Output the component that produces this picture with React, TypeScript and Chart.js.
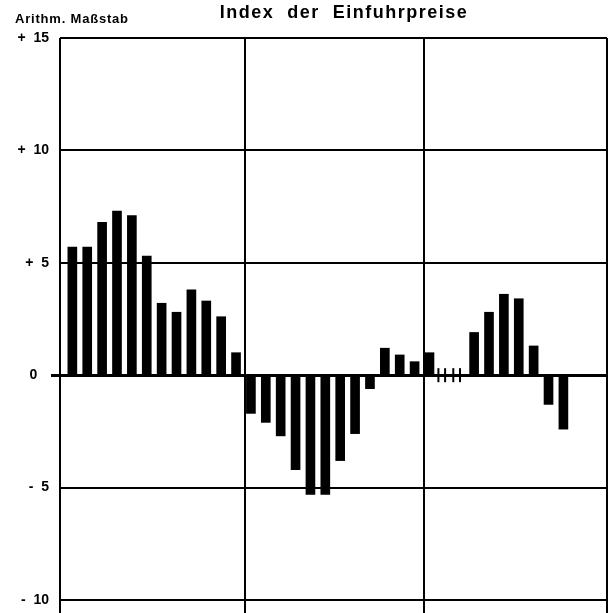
import React, { useEffect, useRef } from "react";
import { Chart, registerables } from "chart.js";

Chart.register(...registerables);

const chartTitle = "Index  der  Einfuhrpreise";
const scaleNote = "Arithm. Maßstab";

// Monthly change (%) over three years, 36 months; 0 = unchanged (marked with ticks)
const monthlyChange: (number | null)[] = [
  5.7, 5.7, 6.8, 7.3, 7.1, 5.3, 3.2, 2.8, 3.8, 3.3, 2.6, 1.0,
  -1.7, -2.1, -2.7, -4.2, -5.3, -5.3, -3.8, -2.6, -0.6, 1.2, 0.9, 0.6,
  1.0, 0, 0, 1.9, 2.8, 3.6, 3.4, 1.3, -1.3, -2.4, null, null,
];

const yTickValues = [-10, -5, 0, 5, 10, 15];
const yearBreaks = [11.6, 23.6];
const xRange = [-0.83, 35.93];
const yRange = [-10.58, 15];
const zeroMarkOffsets = [-0.4, 0.05];

const fontFamily = '"Liberation Sans", Arial, Helvetica, sans-serif';

function yLabel(v: number): string {
  if (v > 0) return "+  " + v;
  if (v < 0) return "-  " + Math.abs(v);
  return "0   ";
}

const headerPlugin = {
  id: "headerText",
  afterDraw(chart: any) {
    const ctx = chart.ctx as CanvasRenderingContext2D;
    ctx.save();
    ctx.fillStyle = "#000";
    ctx.textBaseline = "alphabetic";
    ctx.font = `bold 18px ${fontFamily}`;
    (ctx as any).letterSpacing = "1.5px";
    ctx.textAlign = "center";
    ctx.fillText(chartTitle, 344, 18);
    ctx.font = `bold 13px ${fontFamily}`;
    (ctx as any).letterSpacing = "0.8px";
    ctx.textAlign = "left";
    ctx.fillText(scaleNote, 15, 23);
    ctx.restore();
  },
};

export default function App() {
  const canvasRef = useRef<HTMLCanvasElement | null>(null);

  useEffect(() => {
    if (!canvasRef.current) return;
    const bars = monthlyChange
      .map((v, i) => (v === null ? null : { x: i, y: v }))
      .filter((p) => p !== null) as { x: number; y: number }[];
    const marks: { x: number; y: number }[] = [];
    monthlyChange.forEach((v, i) => {
      if (v === 0) zeroMarkOffsets.forEach((o) => marks.push({ x: i + o, y: 0 }));
    });

    const chart = new Chart(canvasRef.current, {
      type: "bar",
      data: {
        datasets: [
          {
            type: "bar",
            data: bars as any,
            backgroundColor: "#000",
            borderWidth: 0,
            barThickness: 9,
          } as any,
          {
            type: "scatter",
            data: marks as any,
            pointStyle: "line",
            rotation: 90,
            radius: 7,
            borderWidth: 2,
            borderColor: "#000",
            backgroundColor: "#000",
          } as any,
        ],
      },
      options: {
        animation: false,
        responsive: false,
        maintainAspectRatio: false,
        layout: { autoPadding: false, padding: { top: 38, right: 3, bottom: 0, left: 0 } },
        plugins: {
          legend: { display: false },
          tooltip: { enabled: false },
          title: { display: false },
        },
        scales: {
          x: {
            type: "linear",
            min: xRange[0],
            max: xRange[1],
            offset: false,
            border: { display: false },
            ticks: { display: false },
            grid: {
              color: "#000",
              lineWidth: 2,
              drawTicks: false,
              offset: false,
            },
            afterBuildTicks: (scale: any) => {
              scale.ticks = [xRange[0], ...yearBreaks, xRange[1]].map((v) => ({ value: v }));
            },
            afterFit: (scale: any) => {
              scale.height = 0;
              scale.paddingLeft = 0;
              scale.paddingRight = 0;
            },
          },
          y: {
            type: "linear",
            min: yRange[0],
            max: yRange[1],
            border: { display: false },
            grid: {
              color: "#000",
              lineWidth: (c: any) => (c.tick && c.tick.value === 0 ? 3 : 2),
              tickLength: 9,
              tickColor: (c: any) => (c.tick && c.tick.value === 0 ? "#000" : "rgba(0,0,0,0)"),
              tickWidth: 3,
            },
            ticks: {
              color: "#000",
              padding: 2,
              font: { family: fontFamily, size: 14, weight: "bold" },
              callback: (v: any) => yLabel(Number(v)),
            },
            afterBuildTicks: (scale: any) => {
              scale.ticks = yTickValues.map((v) => ({ value: v }));
            },
            afterFit: (scale: any) => {
              scale.width = 60;
              scale.paddingTop = 0;
              scale.paddingBottom = 0;
            },
          },
        },
      },
      plugins: [headerPlugin],
    });
    return () => chart.destroy();
  }, []);

  return (
    <div style={{ position: "absolute", left: 0, top: 0, width: 610, height: 613, background: "#fff" }}>
      <canvas ref={canvasRef} width={610} height={613} style={{ display: "block" }} />
    </div>
  );
}
